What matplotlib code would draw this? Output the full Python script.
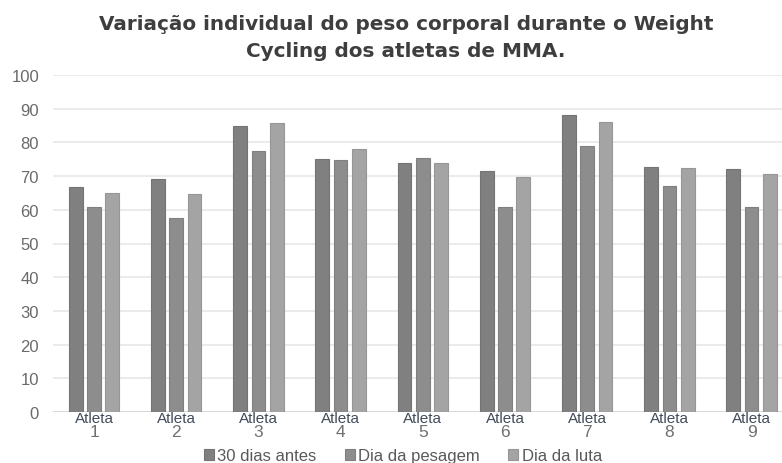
import numpy as np
import matplotlib
matplotlib.use("Agg")
import matplotlib.pyplot as plt
from matplotlib.transforms import blended_transform_factory

# Body weight (kg) of each athlete at three moments of the weight cut
atletas = ["1", "2", "3", "4", "5", "6", "7", "8", "9"]
serie_nomes = ["30 dias antes", "Dia da pesagem", "Dia da luta"]
dias_antes_30 = [66.7, 69.0, 85.0, 75.0, 74.0, 71.4, 88.1, 72.8, 72.1]
dia_pesagem = [60.9, 57.5, 77.5, 74.7, 75.4, 60.9, 78.9, 67.1, 60.9]
dia_luta = [65.0, 64.7, 85.7, 78.0, 74.0, 69.7, 86.1, 72.5, 70.6]
y_ticks = [0, 10, 20, 30, 40, 50, 60, 70, 80, 90, 100]
titulo = ["Variação individual do peso corporal durante o Weight",
          "Cycling dos atletas de MMA."]

cores = ["#808080", "#8d8d8d", "#a4a4a4"]
bordas = ["#747474", "#808080", "#969696"]

plt.rcParams["font.family"] = ["Liberation Sans", "DejaVu Sans"]

W, H = 782, 464
fig = plt.figure(figsize=(W / 100, H / 100), dpi=100)
fig.patch.set_facecolor("white")

ax_left, ax_right = 53, 782
ax_top, ax_bottom = 76, 413
ax = fig.add_axes([ax_left / W, 1 - ax_bottom / H,
                   (ax_right - ax_left) / W, (ax_bottom - ax_top) / H])

x = np.arange(len(atletas))
largura = 0.167
passo = 0.222
series = [dias_antes_30, dia_pesagem, dia_luta]
for i, (vals, nome) in enumerate(zip(series, serie_nomes)):
    ax.bar(x + (i - 1) * passo, vals, width=largura, color=cores[i],
           edgecolor=bordas[i], linewidth=0.8, label=nome, zorder=3)

ax.set_ylim(0, 100)
ax.set_xlim(-0.499, 8.37)
ax.set_yticks(y_ticks)
ax.set_yticklabels([str(v) for v in y_ticks], color="#6a6a6a", fontsize=12)
ax.tick_params(axis="y", length=0, pad=10)
ax.set_xticks([])
ax.grid(axis="y", color="#ebebeb", linewidth=1.4, zorder=0)
for s in ax.spines.values():
    s.set_visible(False)
ax.axhline(0, color="#d9d9d9", linewidth=1.4, zorder=2)

# Category labels sit on top of the baseline, word above the number
tr = blended_transform_factory(ax.transData, fig.transFigure)
for xi, num in zip(x, atletas):
    ax.text(xi, 1 - 419 / H, "Atleta", transform=tr, ha="center", va="center",
            fontsize=11, color="#434c5a", zorder=5)
    ax.text(xi, 1 - 433 / H, num, transform=tr, ha="center", va="center",
            fontsize=12.5, color="#707070", zorder=5)

# Two-line bold title; size chosen so the first line spans ~619 px
t1 = fig.text(406 / W, 1 - 30 / H, titulo[0], ha="center", va="baseline",
              fontsize=14.5, fontweight="bold", color="#3e3e3e",
              family=["DejaVu Sans"])
t2 = fig.text(406 / W, 1 - 57 / H, titulo[1], ha="center", va="baseline",
              fontsize=14.5, fontweight="bold", color="#3e3e3e",
              family=["DejaVu Sans"])
fig.canvas.draw()
w = t1.get_window_extent().width
fs = 14.5 * 619 / w
t1.set_fontsize(fs)
t2.set_fontsize(fs)

fig.legend(loc="center", bbox_to_anchor=(403 / W, 1 - 457 / H), ncol=3,
           frameon=False, fontsize=12, handlelength=0.6, handleheight=0.6,
           handletextpad=0.2, columnspacing=1.7, labelcolor="#595959")

fig.savefig("out.png", dpi=100, facecolor="white")
